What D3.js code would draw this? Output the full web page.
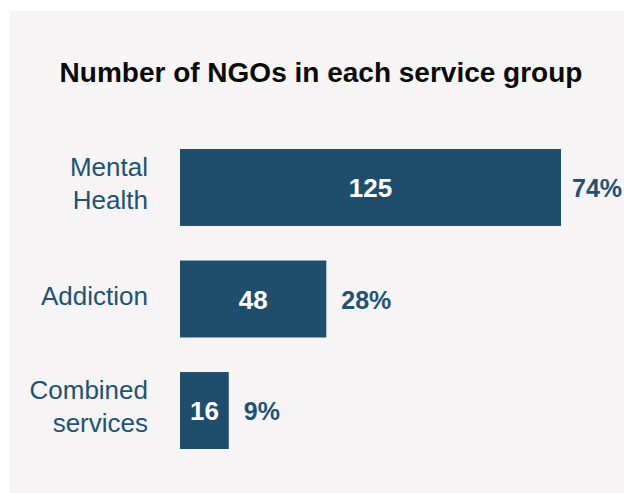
<!DOCTYPE html>
<html>
<head>
<meta charset="utf-8">
<script src="https://cdn.jsdelivr.net/npm/d3@7"></script>
<style>
  html, body { margin: 0; padding: 0; background: #ffffff; }
  svg { display: block; }
</style>
</head>
<body>
<svg id="chart" width="624" height="493"></svg>
<script>
// Service groups and the number of NGOs offering each
const categories = ["Mental Health", "Addiction", "Combined services"];
const categoryLines = [["Mental", "Health"], ["Addiction"], ["Combined", "services"]];
const counts = [125, 48, 16];
const shares = ["74%", "28%", "9%"];

const title = "Number of NGOs in each service group";
const barColor = "#1f4e6d";
const textColor = "#1f5273";
const fontFamily = "'Liberation Sans', Arial, sans-serif";

const svg = d3.select("#chart");

// panel background
svg.append("rect")
  .attr("x", 10).attr("y", 11)
  .attr("width", 614).attr("height", 482)
  .attr("fill", "#f6f4f5");

svg.append("text")
  .attr("x", 321)
  .attr("y", 82)
  .attr("text-anchor", "middle")
  .attr("font-family", fontFamily)
  .attr("font-weight", "bold")
  .attr("font-size", 28)
  .attr("fill", "#0b0b0b")
  .text(title);

const x = d3.scaleLinear().domain([0, 125]).range([180, 561]);
const y = d3.scaleBand().domain(categories).range([149, 449]).paddingInner(0.31).paddingOuter(0);

const rows = svg.append("g").selectAll("g")
  .data(categories.map((c, i) => ({ c, lines: categoryLines[i], v: counts[i], s: shares[i] })))
  .join("g");

rows.append("rect")
  .attr("x", x(0))
  .attr("y", d => y(d.c))
  .attr("width", d => x(d.v) - x(0))
  .attr("height", y.bandwidth())
  .attr("fill", barColor);

// count inside each bar
rows.append("text")
  .attr("x", d => (x(0) + x(d.v)) / 2)
  .attr("y", d => y(d.c) + y.bandwidth() / 2 + 9.5)
  .attr("text-anchor", "middle")
  .attr("font-family", fontFamily)
  .attr("font-weight", "bold")
  .attr("font-size", 26)
  .attr("fill", "#ffffff")
  .text(d => d.v);

// share to the right of each bar
rows.append("text")
  .attr("x", d => x(d.v) + (d.v === 125 ? 11 : 15))
  .attr("y", d => y(d.c) + y.bandwidth() / 2 + 9.5)
  .attr("font-family", fontFamily)
  .attr("font-weight", "bold")
  .attr("font-size", 25)
  .attr("fill", textColor)
  .text(d => d.s);

// category labels, right aligned
rows.append("text")
  .attr("text-anchor", "end")
  .attr("font-family", fontFamily)
  .attr("font-size", 26)
  .attr("fill", textColor)
  .each(function(d) {
    const t = d3.select(this);
    const cy = y(d.c) + y.bandwidth() / 2;
    const first = d.lines.length === 1 ? cy + 5.5 : cy - 11.5;
    d.lines.forEach((line, i) => {
      t.append("tspan")
        .attr("x", 148)
        .attr("y", first + i * 33)
        .text(line);
    });
  });
</script>
</body>
</html>
